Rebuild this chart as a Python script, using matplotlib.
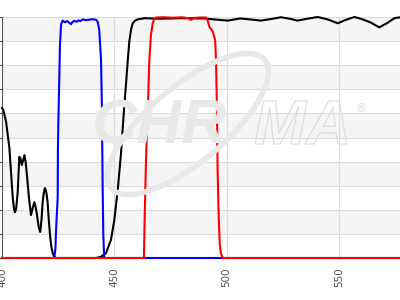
import matplotlib
matplotlib.use("Agg")
import matplotlib.pyplot as plt
from matplotlib.patches import Ellipse
from matplotlib.transforms import IdentityTransform
import matplotlib.patheffects as pe

# Black curve (wavelength nm, transmission %)
black_wl = [400.0, 400.6, 401.8, 403.3, 404.2, 404.8, 405.4, 405.8, 406.3, 407.0, 407.7, 408.2, 408.8, 409.4,
            410.0, 410.5, 411.1, 412.0, 412.9, 413.6, 414.4, 415.0, 415.6, 416.3, 417.0, 417.6, 418.1, 418.6,
            419.1, 419.7, 420.3, 420.9, 421.5, 422.0, 422.6, 423.3, 424.0,
            441.9, 444.0, 446.3, 448.5, 450.0, 451.5, 453.0, 454.2, 455.2, 456.0, 456.7, 457.5, 458.2, 459.3,
            460.4, 463.4, 470.0, 480.0, 490.0, 494.4, 500.5, 506.0, 510.5, 515.3, 520.0, 524.2, 528.0, 531.6,
            536.0, 540.6, 545.0, 549.5, 553.0, 556.9, 560.0, 564.0, 568.0, 571.5, 574.7, 578.0]
black_t = [62.2, 61.4, 56.6, 45.6, 33.0, 24.9, 20.0, 19.0, 20.5, 27.4, 42.0, 41.5, 38.6, 40.5,
           42.7, 40.0, 34.4, 25.0, 17.8, 20.5, 23.2, 21.0, 17.8, 13.0, 10.8, 16.0, 23.2, 27.0,
           29.0, 27.5, 23.2, 15.0, 8.3, 4.5, 2.0, 0.5, 0.0,
           0.0, 0.5, 2.0, 7.5, 15.7, 28.0, 43.6, 60.0, 72.0, 82.0, 90.0, 95.0, 97.4, 98.5,
           99.0, 99.5, 99.3, 99.5, 99.4, 99.0, 98.5, 99.4, 99.0, 98.5, 99.2, 99.9, 99.3, 98.5,
           99.3, 100.0, 99.0, 97.4, 98.8, 100.0, 99.2, 97.8, 95.7, 97.5, 99.5, 100.0]

# Blue curve
blue_wl = [400.0, 423.3, 423.8, 424.0, 424.4, 424.8, 424.9, 425.1, 425.4, 425.8, 426.3, 427.0, 428.0, 429.0,
           430.0, 430.7, 431.5, 432.2, 433.3, 434.0, 434.8, 436.0, 437.2, 438.4, 439.5, 441.1, 442.0, 442.6,
           443.3, 444.1, 444.5, 444.8, 445.1, 445.5, 578.0]
blue_t = [0.0, 0.0, 4.0, 10.0, 18.0, 25.0, 45.0, 57.0, 70.0, 88.0, 97.0, 98.5, 97.8, 98.3,
          97.6, 97.0, 98.0, 98.4, 98.0, 98.6, 98.3, 99.0, 98.7, 98.8, 99.0, 99.0, 98.8, 98.0,
          94.6, 82.0, 61.4, 30.0, 10.0, 0.0, 0.0]

# Red curve
red_wl = [400.0, 463.2, 463.5, 464.1, 464.6, 464.9, 465.6, 466.3, 467.1, 467.8, 468.6, 472.0, 476.0, 480.0,
          483.0, 484.1, 485.5, 488.0, 490.8, 491.6, 492.3, 493.8, 494.9, 495.3, 495.7, 496.0, 496.4, 496.7,
          497.0, 497.6, 498.4, 578.0]
red_t = [0.0, 0.0, 15.7, 40.0, 55.0, 61.4, 82.0, 92.5, 97.4, 99.2, 99.8, 99.9, 99.7, 99.9,
         99.5, 98.8, 99.6, 99.8, 99.8, 98.5, 96.0, 94.0, 90.5, 82.0, 61.4, 36.5, 20.0, 12.0,
         5.0, 1.5, 0.0, 0.0]

x_ticks = [400, 450, 500, 550]
y_ticks = [0, 10, 20, 30, 40, 50, 60, 70, 80, 90, 100]

fig = plt.figure(figsize=(4, 3), dpi=100)
ax = fig.add_axes([2 / 400, 42 / 300, 398 / 400, 241 / 300])
ax.set_xlim(400, 400 + 398 / 2.246)
ax.set_ylim(0, 100)

for lo in [10, 30, 50, 70, 90]:
    ax.axhspan(lo, lo + 10, color="#f5f5f5", zorder=0, lw=0)

ax.set_xticks(x_ticks)
ax.set_yticks(y_ticks)
ax.set_yticklabels([])
ax.grid(True, color="#dcdcdc", lw=0.8, zorder=1)
ax.set_axisbelow(True)
for s in ["top", "right", "bottom"]:
    ax.spines[s].set_visible(False)
ax.spines["left"].set_color("#555555")
ax.spines["left"].set_linewidth(0.8)
ax.tick_params(axis="y", length=3, color="#555555", width=0.8)
ax.tick_params(axis="x", length=0, pad=7, labelsize=7.5, labelcolor="#555555", rotation=90)

# Watermark
ell = Ellipse((188, 176), 200, 76, angle=40, fill=False, edgecolor="#e8e8e8", lw=4.0,
              transform=IdentityTransform(), zorder=2)
fig.add_artist(ell)
fig.text(92 / 400, (300 - 144) / 300, "CHR", fontsize=45, family="Liberation Sans", weight="bold",
         style="italic", color="#e8e8e8", zorder=2)
fig.text(254 / 400, (300 - 144) / 300, "MA", fontsize=45, family="Liberation Sans", weight="bold",
         style="italic", color=(1, 1, 1, 0), zorder=2,
         path_effects=[pe.withStroke(linewidth=0.9, foreground="#dddddd")])
fig.text(354 / 400, (300 - 112) / 300, "®", fontsize=9, color="#dddddd", zorder=2)

ax.plot(black_wl, black_t, color="black", lw=1.5, zorder=3, clip_on=False)
ax.plot(blue_wl, blue_t, color="#0000ff", lw=1.5, zorder=4, clip_on=False)
ax.plot(red_wl, red_t, color="#ff0000", lw=1.5, zorder=5, clip_on=False)

fig.savefig("out.png", dpi=100)
